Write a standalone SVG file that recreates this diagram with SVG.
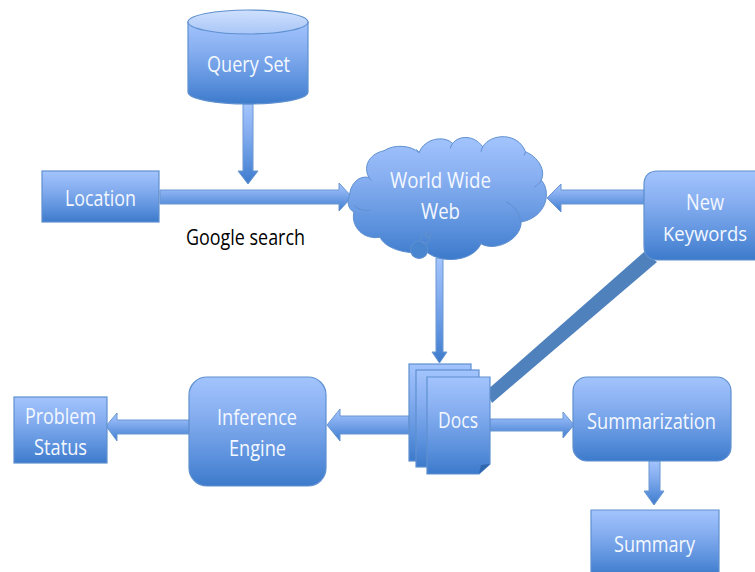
<svg xmlns="http://www.w3.org/2000/svg" width="755" height="572" viewBox="0 0 755 572">
<style>
.s{fill:url(#g);stroke:#5f90cf;stroke-width:1.2}
.a{fill:url(#g);stroke:#6a97d2;stroke-width:1}
.l{fill:none;stroke:#5f90cf;stroke-width:1;vector-effect:non-scaling-stroke}
text{font-family:"Open Sans","Liberation Sans",sans-serif;font-size:21px;fill:#f4f8ff;text-anchor:start}
</style>
<defs>
<linearGradient id="g" x1="0" y1="0" x2="0" y2="1"><stop offset="0" stop-color="#a3c4fd"/><stop offset="0.35" stop-color="#86aef0"/><stop offset="0.75" stop-color="#5a90dc"/><stop offset="1" stop-color="#3d7acb"/></linearGradient>
<linearGradient id="t" x1="0" y1="0" x2="0" y2="1"><stop offset="0" stop-color="#cfe0fd"/><stop offset="1" stop-color="#a9c6f7"/></linearGradient>
</defs>
<rect width="755" height="572" fill="#fff"/>
<g id="connectors">
<polygon class="a" points="243,104 253,104 253,171 258,171 248,184 238,171 243,171"/>
<polygon class="a" points="160,190 339,190 339,183 352,197 339,211 339,204 160,204"/>
<polygon class="a" points="644,190 561,190 561,184 547,198 561,212 561,204 644,204"/>
<polygon class="a" points="436,258 443,258 443,352 447,352 439.500,363 432,352 436,352"/>
<polygon class="a" points="409,416 340,416 340,409 327,425 340,441 340,434 409,434"/>
<polygon class="a" points="189,420 117,420 117,413 106,426 117,441 117,434 189,434"/>
<polygon class="a" points="490,419 563,419 563,412 574,425 563,438 563,431 490,431"/>
<polygon class="a" points="649,461 660,461 660,491 664,491 654,505 644,491 649,491"/>
<polygon fill="#4f81bd" points="486,391 644,252 657,262 492,403"/>
</g>
<g id="query-set">
<path class="s" d="M188,22V92C188,99 215,104 248,104S308,99 308,92V22Z"/>
<ellipse cx="248" cy="22" rx="60" ry="12" fill="url(#t)" stroke="#5f90cf" stroke-width="1.200"/>
<text x="207" y="72" textLength="83" lengthAdjust="spacingAndGlyphs">Query Set</text>
</g>
<g id="location">
<rect class="s" x="42" y="171" width="117" height="51"/>
<text x="65" y="206" textLength="71" lengthAdjust="spacingAndGlyphs">Location</text>
</g>
<g id="google-search">
<text x="186" y="245" textLength="119" lengthAdjust="spacingAndGlyphs" style="fill:#000">Google search</text>
</g>
<g id="world-wide-web">
<g transform="translate(340.500 130) scale(.3345)">
<path class="l" style="fill:url(#g)" d="M27,195C30,160 55,135 85,142C65,105 90,70 130,62C160,42 210,45 235,68C250,25 310,15 335,40C355,15 400,15 425,50C450,10 530,5 553,65C590,80 615,120 600,150C630,180 620,260 540,275C540,330 460,365 420,340C395,395 300,400 258,365C190,375 130,350 118,320C70,330 30,290 40,245C20,235 20,210 27,195Z"/>
<path class="l" d="M40,225C55,240 75,242 90,240M85,142C88,146 90,149 93,152M235,68C233,64 230,60 226,58M335,40C332,45 330,50 328,55M425,50C423,55 421,60 420,65M553,65C552,69 551,72 549,76M600,150C595,160 588,166 580,170M495,215C525,230 542,255 538,290M420,340C417,336 414,333 410,330M118,320C112,321 106,322 100,322"/>
<circle cx="235" cy="358" r="26" fill="#4a85d0" stroke="#5f90cf" stroke-width="3"/>
<circle cx="252" cy="325" r="14" fill="none" stroke="#5f90cf" stroke-width="3"/>
<circle cx="262" cy="313" r="8" fill="none" stroke="#5f90cf" stroke-width="3"/>
</g>
<text x="390" y="188" textLength="101" lengthAdjust="spacingAndGlyphs">World Wide</text>
<text x="421" y="219" textLength="39" lengthAdjust="spacingAndGlyphs">Web</text>
</g>
<g id="new-keywords">
<path class="s" d="M760,171H658Q644,171 644,185V246Q644,260 658,260H760Z"/>
<text x="686" y="210" textLength="38" lengthAdjust="spacingAndGlyphs">New</text>
<text x="663" y="241" textLength="84" lengthAdjust="spacingAndGlyphs" style="font-size:19.500px">Keywords</text>
</g>
<g id="docs">
<rect class="s" x="409" y="364" width="62" height="97"/>
<rect class="s" x="416" y="370" width="63" height="97"/>
<path class="s" d="M427,377H490V464L479,474H427Z"/>
<path d="M490,464L481,465L479,474Z" fill="#2f66ad"/>
<text x="438" y="428" textLength="40" lengthAdjust="spacingAndGlyphs">Docs</text>
</g>
<g id="inference-engine">
<rect class="s" x="189" y="377" width="137" height="109" rx="18"/>
<text x="217" y="425" textLength="80" lengthAdjust="spacingAndGlyphs">Inference</text>
<text x="229" y="456" textLength="57" lengthAdjust="spacingAndGlyphs">Engine</text>
</g>
<g id="problem-status">
<rect class="s" x="14" y="397" width="93" height="66"/>
<text x="25" y="424" textLength="71" lengthAdjust="spacingAndGlyphs">Problem</text>
<text x="34" y="455" textLength="53" lengthAdjust="spacingAndGlyphs">Status</text>
</g>
<g id="summarization">
<rect class="s" x="573" y="377" width="158" height="84" rx="14"/>
<text x="587" y="429" textLength="129" lengthAdjust="spacingAndGlyphs">Summarization</text>
</g>
<g id="summary">
<path class="s" d="M591,576V510H719V576Z"/>
<text x="614" y="552" textLength="81" lengthAdjust="spacingAndGlyphs">Summary</text>
</g>
</svg>
